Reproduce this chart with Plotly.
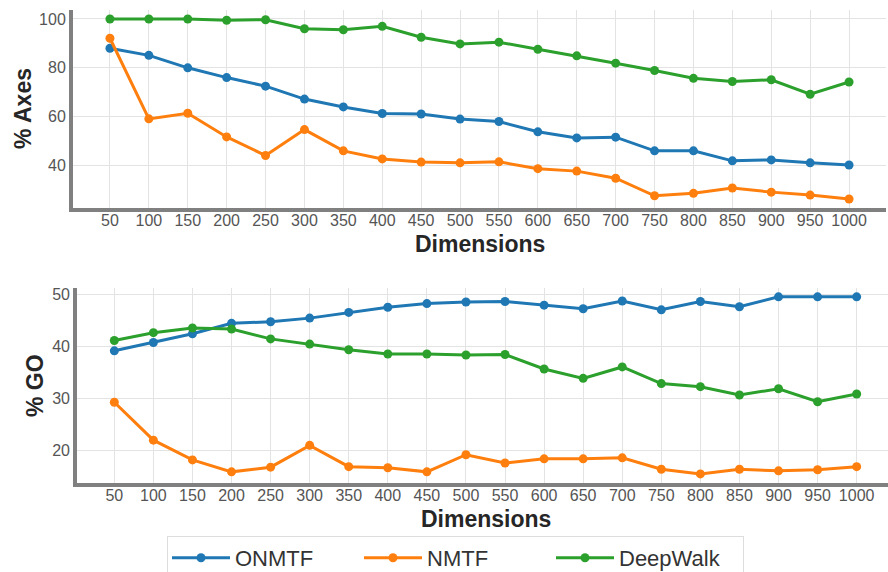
import plotly.graph_objects as go

# Embedding dimensions evaluated
dimensions = [50, 100, 150, 200, 250, 300, 350, 400, 450, 500,
              550, 600, 650, 700, 750, 800, 850, 900, 950, 1000]

# % Axes per method
axes_onmtf = [88.0, 85.1, 80.0, 76.0, 72.5, 67.2, 64.0, 61.3, 61.1, 59.0,
              58.0, 53.8, 51.3, 51.6, 46.0, 46.0, 41.9, 42.3, 41.1, 40.2]
axes_nmtf = [92.1, 59.1, 61.4, 51.7, 44.1, 54.7, 46.0, 42.7, 41.4, 41.1,
             41.5, 38.7, 37.7, 34.8, 27.6, 28.6, 30.8, 29.1, 27.9, 26.3]
axes_deepwalk = [100.0, 100.0, 100.0, 99.5, 99.7, 96.0, 95.6, 97.0, 92.5, 89.8,
                 90.5, 87.6, 84.9, 81.9, 78.9, 75.7, 74.4, 75.1, 69.2, 74.2]

# % GO per method
go_onmtf = [39.1, 40.7, 42.4, 44.4, 44.7, 45.4, 46.5, 47.5, 48.2, 48.5,
            48.6, 47.9, 47.2, 48.7, 47.0, 48.6, 47.6, 49.5, 49.5, 49.5]
go_nmtf = [29.2, 21.9, 18.1, 15.8, 16.7, 20.9, 16.8, 16.6, 15.8, 19.1,
           17.5, 18.3, 18.3, 18.5, 16.3, 15.4, 16.3, 16.0, 16.2, 16.8]
go_deepwalk = [41.1, 42.6, 43.5, 43.3, 41.4, 40.4, 39.3, 38.5, 38.5, 38.3,
               38.4, 35.6, 33.8, 36.0, 32.8, 32.2, 30.6, 31.8, 29.3, 30.8]

methods = ["ONMTF", "NMTF", "DeepWalk"]
colors = ["#1f77b4", "#ff7f0e", "#2ca02c"]
axes_series = [axes_onmtf, axes_nmtf, axes_deepwalk]
go_series = [go_onmtf, go_nmtf, go_deepwalk]

W, H = 888, 572
FONT = "Liberation Sans, Arial, sans-serif"


def px_x(p):
    return p / W


def px_y(p):
    return (H - p) / H


fig = go.Figure()

for name, color, ys in zip(methods, colors, axes_series):
    fig.add_trace(go.Scatter(
        x=dimensions, y=ys, name=name, mode="lines+markers",
        line=dict(color=color, width=3), marker=dict(color=color, size=9),
        xaxis="x", yaxis="y", legendgroup=name, showlegend=True))

for name, color, ys in zip(methods, colors, go_series):
    fig.add_trace(go.Scatter(
        x=dimensions, y=ys, name=name, mode="lines+markers",
        line=dict(color=color, width=3), marker=dict(color=color, size=9),
        xaxis="x2", yaxis="y2", legendgroup=name, showlegend=False))

axis_common = dict(
    showgrid=True, gridcolor="#e3e3e3", gridwidth=1.3,
    zeroline=False, showline=True, linecolor="#808080", linewidth=4,
    ticks="", tickfont=dict(family=FONT, size=16, color="#555555"),
)
x_common = dict(tickvals=dimensions, ticklabelstandoff=-5, **axis_common)
y_common = dict(ticklabelstandoff=0, **axis_common)

fig.update_layout(
    width=W, height=H,
    margin=dict(l=0, r=0, t=0, b=0, autoexpand=False),
    paper_bgcolor="white", plot_bgcolor="white",
    showlegend=True,
    xaxis=dict(domain=[px_x(73), px_x(886)], range=[2.5, 1047.5],
               anchor="y", **x_common),
    yaxis=dict(domain=[px_y(208), px_y(9.7)], range=[22.6, 103.8],
               tickvals=[40, 60, 80, 100], anchor="x", **y_common),
    xaxis2=dict(domain=[px_x(77.2), 1.0], range=[2.5, 1040.1],
                anchor="y2", **x_common),
    yaxis2=dict(domain=[px_y(482.5), px_y(288)], range=[13.75, 51.2],
                tickvals=[20, 30, 40, 50], anchor="x2", **y_common),
    legend=dict(
        orientation="h", x=px_x(167), y=px_y(536), xanchor="left", yanchor="top",
        font=dict(family=FONT, size=22, color="#333333"),
        bordercolor="#dddddd", borderwidth=1, bgcolor="white",
        itemwidth=58, entrywidth=119, entrywidthmode="pixels",
    ),
)

title_font = dict(family=FONT, size=23, color="#262626")
annotations = [
    dict(text="<b>Dimensions</b>", x=px_x(480), y=px_y(244)),
    dict(text="<b>Dimensions</b>", x=px_x(485.5), y=px_y(519)),
    dict(text="<b>% Axes</b>", x=px_x(23), y=px_y(109), textangle=-90),
    dict(text="<b>% GO</b>", x=px_x(35), y=px_y(386), textangle=-90),
]
for a in annotations:
    fig.add_annotation(xref="paper", yref="paper", xanchor="center", yanchor="middle",
                       showarrow=False, font=title_font, **a)

fig.write_html("out.html")
